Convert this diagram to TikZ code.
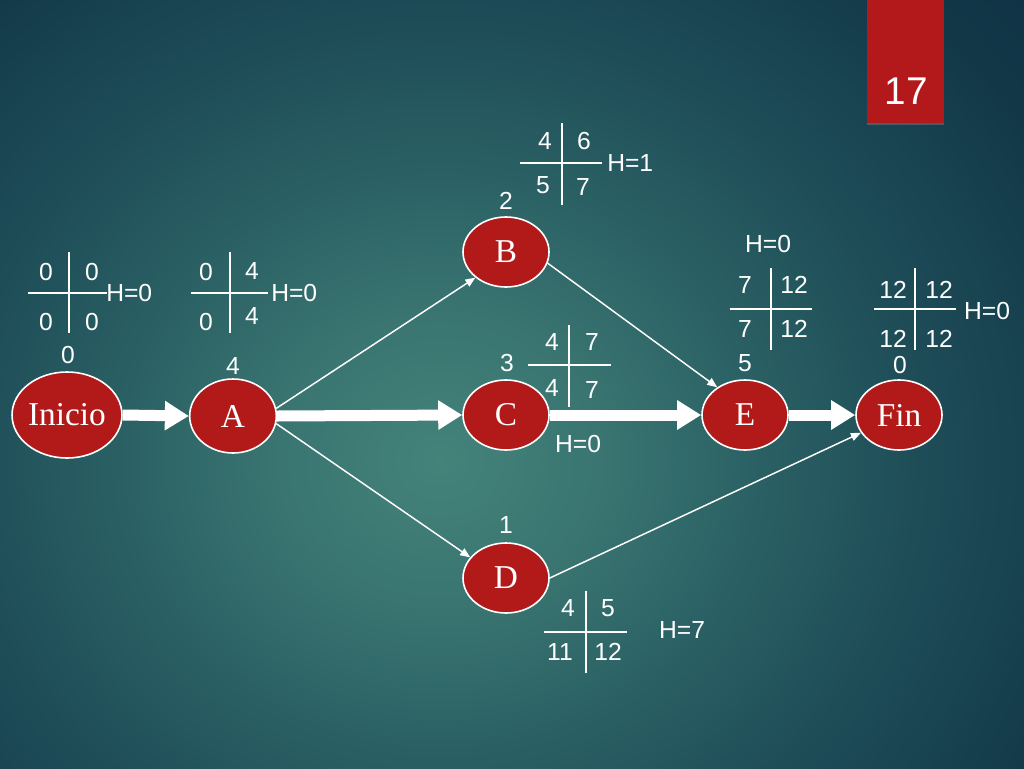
\documentclass[tikz,border=0pt]{standalone}
\usepackage{fontspec}
\setmainfont{Liberation Serif}
\newfontfamily\arialf{Liberation Sans}
\usetikzlibrary{arrows.meta,shapes.geometric,shadows}
\definecolor{bgA}{HTML}{43837A}
\definecolor{bgB}{HTML}{3A7571}
\definecolor{bgC}{HTML}{2A6064}
\definecolor{bgD}{HTML}{1E4D58}
\definecolor{bgE}{HTML}{123848}
\definecolor{bgF}{HTML}{0E3042}
\definecolor{nodered}{HTML}{B21A1A}
\definecolor{boxred}{HTML}{B3191A}
\pgfdeclareradialshading{slidebg}{\pgfpoint{0bp}{0bp}}{color(0bp)=(bgA); color(4.7bp)=(bgB); color(9.4bp)=(bgC); color(14bp)=(bgD); color(20.3bp)=(bgE); color(25bp)=(bgF); color(50bp)=(bgF)}
\begin{document}
\begin{tikzpicture}[x=0.75pt,y=-0.75pt,
  evt/.style={ellipse, draw=white, line width=1.2pt, fill=nodered, text=white,
    font=\fontsize{25}{29}\selectfont, inner sep=0pt, minimum width=64.5pt, minimum height=52.5pt},
  num/.style={font=\arialf\fontsize{18.5}{22}\selectfont, text=white, inner sep=0pt},
  bigarrow/.style={draw=white, line width=8.25pt, -{Triangle[length=18pt,width=21pt]}},
  thinarrow/.style={draw=white, line width=1.1pt, -{Triangle[length=7.5pt,width=6pt]}},
  crossline/.style={draw=white, line width=1.3pt}]
\useasboundingbox (0,0) rectangle (1024,768);
\fill[bgF] (0,0) rectangle (1024,768);
\begin{scope}
  \clip (0,0) rectangle (1024,768);
  \shade[shading=slidebg] (440,460) ellipse [x radius=640pt, y radius=580pt];
\end{scope}

% slide number
\node[fill=boxred, inner sep=0pt, minimum width=57.75pt, minimum height=92.25pt, anchor=north west,
  drop shadow={shadow xshift=0pt, shadow yshift=-1.5pt, opacity=0.45}] (numbox) at (867,0) {};
\node[font=\arialf\fontsize{29}{34}\selectfont, text=white, inner sep=0pt] (numtxt) at (906,91) {17};

% events
\node[evt, minimum width=70.5pt, minimum height=64.5pt] (Inicio) at (67,415) {Inicio};
\node[evt, minimum width=65pt, minimum height=55.5pt] (A) at (233,416) {A};
\node[evt] (B) at (506,252) {B};
\node[evt] (C) at (506,415) {C};
\node[evt] (D) at (506,578) {D};
\node[evt] (E) at (745,415) {E};
\node[evt] (Fin) at (899,415) {Fin};

% connectors
\draw[bigarrow] (Inicio.east) -- (A.west);
\draw[bigarrow] (A.east) -- (C.west);
\draw[bigarrow] (C.east) -- (E.west);
\draw[bigarrow] (E.east) -- (Fin.west);
\draw[thinarrow] (A.10) -- (B.220);
\draw[thinarrow] (A.-10) -- (D.150);
\draw[thinarrow] (B.-15) -- (E.135);
\draw[thinarrow] (D.0) -- (Fin.205);

% durations
\node[num] (dI) at (68,355) {0};
\node[num] (dA) at (233,366) {4};
\node[num] (dB) at (506,201) {2};
\node[num] (dC) at (507,363) {3};
\node[num] (dD) at (506,525) {1};
\node[num] (dE) at (745,363) {5};
\node[num] (dF) at (900,365) {0};

% Inicio table
\draw[crossline] (69,252) -- (69,333);
\draw[crossline] (28,293) -- (107,293);
\node[num] (i1) at (46,272) {0};
\node[num] (i2) at (92,272) {0};
\node[num] (i3) at (46,322) {0};
\node[num] (i4) at (92,322) {0};
\node[num, anchor=west] (iH) at (106,293) {H=0};

% A table
\draw[crossline] (230,252) -- (230,333);
\draw[crossline] (191,293) -- (268,293);
\node[num] (a1) at (206,272) {0};
\node[num] (a2) at (252,271) {4};
\node[num] (a3) at (206,322) {0};
\node[num] (a4) at (252,316) {4};
\node[num, anchor=west] (aH) at (271,293) {H=0};

% B table
\draw[crossline] (562,123) -- (562,205);
\draw[crossline] (520,163) -- (602,163);
\node[num] (b1) at (545,141) {4};
\node[num] (b2) at (584,141) {6};
\node[num] (b3) at (543,185) {5};
\node[num] (b4) at (583,187) {7};
\node[num, anchor=west] (bH) at (607,163) {H=1};

% C table
\draw[crossline] (569,325) -- (569,407);
\draw[crossline] (528,365) -- (611,365);
\node[num] (c1) at (552,342) {4};
\node[num] (c2) at (592,342) {7};
\node[num] (c3) at (552,388) {4};
\node[num] (c4) at (592,390) {7};
\node[num] (cH) at (578,444) {H=0};

% E table
\draw[crossline] (771,268) -- (771,350);
\draw[crossline] (730,309) -- (812,309);
\node[num] (e1) at (745,285) {7};
\node[num] (e2) at (794,285) {12};
\node[num] (e3) at (745,329) {7};
\node[num] (e4) at (794,329) {12};
\node[num] (eH) at (768,244) {H=0};

% Fin table
\draw[crossline] (915,268) -- (915,350);
\draw[crossline] (874,309) -- (956,309);
\node[num] (f1) at (893,290) {12};
\node[num] (f2) at (939,290) {12};
\node[num] (f3) at (893,339) {12};
\node[num] (f4) at (939,339) {12};
\node[num] (fH) at (987,311) {H=0};

% D table
\draw[crossline] (586,591) -- (586,673);
\draw[crossline] (544,632) -- (627,632);
\node[num] (d1) at (568,608) {4};
\node[num] (d2) at (608,608) {5};
\node[num] (d3) at (560,652) {11};
\node[num] (d4) at (608,652) {12};
\node[num] (dH) at (682,630) {H=7};
\end{tikzpicture}
\end{document}
